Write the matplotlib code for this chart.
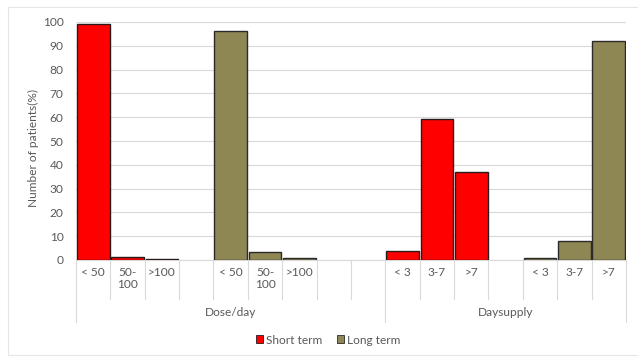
import matplotlib.pyplot as plt
from matplotlib.patches import Rectangle, Patch
from matplotlib.transforms import blended_transform_factory

plt.rcParams["font.family"] = ["Lato", "DejaVu Sans"]

# data
groups = ["Dose/day", "Daysupply"]
dose_bins = ["< 50", "50-\n100", ">100"]
supply_bins = ["< 3", "3-7", ">7"]
short_dose = [99.2, 1.1, 0.4]
long_dose = [96.3, 3.3, 1.0]
short_supply = [3.9, 59.2, 37.0]
long_supply = [0.7, 7.9, 92.0]

RED = "#ff0000"
OLIVE = "#8f8753"
GRID = "#d9d9d9"
TXT = "#595959"
FS = 8.6

W, H = 638, 360
fig = plt.figure(figsize=(W / 100, H / 100), dpi=100)
ax = fig.add_axes([76 / W, 1 - 260 / H, (626 - 76) / W, (260 - 22) / H])

# slot layout: each group = short bars, gap, long bars, gap(s)
group_slots = [9, 7]
group_start = [0, 9]
series = [
    (dose_bins, short_dose, long_dose),
    (supply_bins, short_supply, long_supply),
]

tr = blended_transform_factory(ax.transData, ax.transAxes)
px = 1 / (260 - 22)  # one pixel in axes fraction (vertical)

for g, (bins, sv, lv) in enumerate(series):
    s0 = group_start[g]
    n = len(bins)
    xs_short = [s0 + i for i in range(n)]
    xs_long = [s0 + n + 1 + i for i in range(n)]
    ax.bar(xs_short, sv, width=0.95, color=RED, edgecolor="#2a1a1a", linewidth=1.0, zorder=3)
    ax.bar(xs_long, lv, width=0.95, color=OLIVE, edgecolor="#2a2a2a", linewidth=1.0, zorder=3)
    for x, lab in zip(xs_short + xs_long, bins + bins):
        ax.text(x, -7 * px, lab, transform=tr, ha="center", va="top",
                fontsize=FS, color=TXT, linespacing=1.15)
    # group label
    mid = s0 + (group_slots[g] - 1) / 2
    ax.text(mid, -47 * px, groups[g], transform=tr, ha="center", va="top",
            fontsize=FS, color=TXT)

# separators under the axis
total = sum(group_slots)
outer = {group_start[0], group_start[1], total}
for k in range(total + 1):
    depth = 62 if k in outer else 39
    ax.plot([k - 0.5, k - 0.5], [0, -depth * px], transform=tr,
            color=GRID, linewidth=0.8, clip_on=False, zorder=1)

ax.set_xlim(-0.5, total - 0.5)
ax.set_ylim(0, 100)
ax.set_yticks(range(0, 101, 10))
ax.set_xticks([])
ax.tick_params(axis="y", length=0, labelsize=FS, labelcolor=TXT, pad=9)
ax.grid(axis="y", color=GRID, linewidth=0.8, zorder=0)
for side in ["top", "right", "left"]:
    ax.spines[side].set_visible(False)
ax.spines["bottom"].set_color(GRID)
ax.spines["bottom"].set_linewidth(0.8)

fig.text(33 / W, 1 - 148 / H, "Number of patients(%)", rotation=90,
         ha="center", va="center", fontsize=FS, color=TXT)

handles = [
    Patch(facecolor=RED, edgecolor="#2a1a1a", linewidth=0.6, label="Short term"),
    Patch(facecolor=OLIVE, edgecolor="#2a2a2a", linewidth=0.6, label="Long term"),
]
leg = fig.legend(handles=handles, loc="center", bbox_to_anchor=(328 / W, 1 - 340 / H),
                 ncol=2, frameon=False, fontsize=FS, handlelength=0.6,
                 handleheight=0.6, handletextpad=0.25, columnspacing=1.2)
for t in leg.get_texts():
    t.set_color(TXT)

# faint chart border
fig.patches.append(Rectangle((8 / W, 1 - 355 / H), (W + 5 - 8) / W, (355 - 7) / H,
                             transform=fig.transFigure, fill=False,
                             edgecolor="#e6e6e6", linewidth=0.8))

fig.savefig("out.png", dpi=100)
